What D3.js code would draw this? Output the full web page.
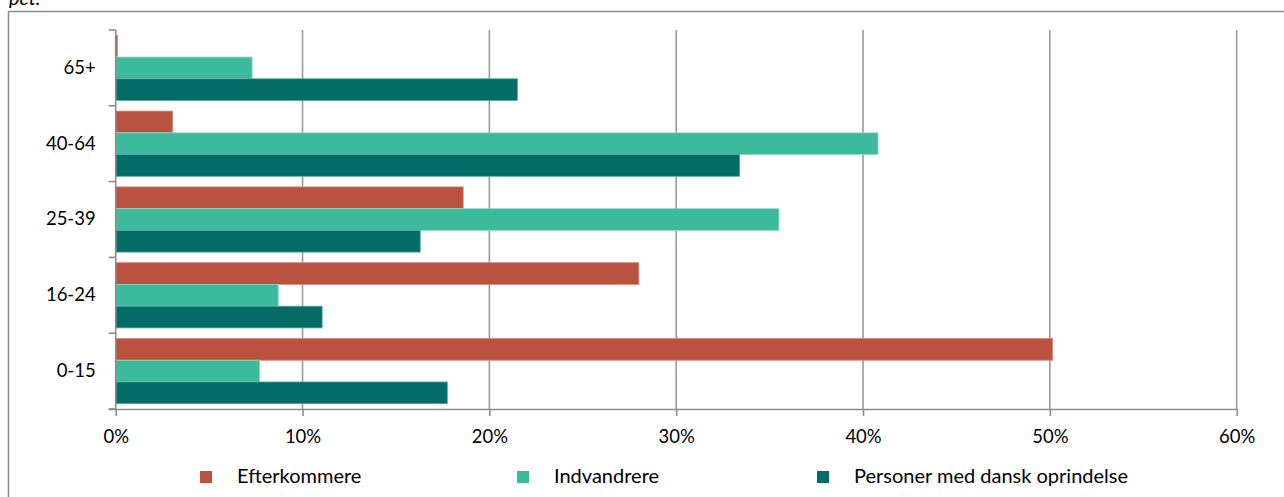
<!DOCTYPE html>
<html>
<head>
<meta charset="utf-8">
<script src="https://cdn.jsdelivr.net/npm/d3@7"></script>
<style>
  html, body { margin: 0; padding: 0; background: #fff; }
  svg { display: block; }
  text { font-family: Lato, "Open Sans", sans-serif; fill: #000; }
</style>
</head>
<body>
<svg id="chart" width="1284" height="497"></svg>
<script>
// ---- data ----
const categories = ["65+", "40-64", "25-39", "16-24", "0-15"];
const seriesNames = ["Efterkommere", "Indvandrere", "Personer med dansk oprindelse"];
const efterkommere = [0.1, 3.05, 18.6, 28.0, 50.15];
const indvandrere  = [7.3, 40.8, 35.5, 8.7, 7.7];
const danskOprindelse = [21.5, 33.4, 16.3, 11.05, 17.75];
const xTicks = [0, 10, 20, 30, 40, 50, 60];
const xTickLabels = ["0%", "10%", "20%", "30%", "40%", "50%", "60%"];
const unitLabel = "pct.";

// ---- styling / layout ----
const colors = ["#B9523F", "#3BBB9B", "#056B67"];
const strokes = ["#d98a7a", "#8fdcc8", "#5aa9a5"];
const svg = d3.select("#chart");
const plot = { left: 115.7, right: 1236.7, top: 30, bottom: 409 };

const x = d3.scaleLinear().domain([0, 60]).range([plot.left, plot.right]);
const y = d3.scaleBand().domain(categories).range([plot.top, plot.bottom]).paddingInner(0).paddingOuter(0);
const inner = d3.scaleBand().domain(seriesNames).range([0, y.bandwidth()]).paddingOuter(0.243).paddingInner(0);

const seriesValues = [efterkommere, indvandrere, danskOprindelse];

// outer frame
svg.append("path")
  .attr("d", "M8.5,497 L8.5,11.5 L1284,11.5")
  .attr("fill", "none").attr("stroke", "#8c8c8c").attr("stroke-width", 1.5);

// unit label (partly cut off at top, as in the reference)
svg.append("text")
  .attr("x", 9).attr("y", 5)
  .attr("font-style", "italic")
  .attr("font-size", 20)
  .text(unitLabel);

// gridlines
svg.append("g").selectAll("line")
  .data(xTicks.filter(d => d > 0))
  .join("line")
  .attr("x1", d => x(d)).attr("x2", d => x(d))
  .attr("y1", plot.top).attr("y2", plot.bottom)
  .attr("stroke", "#9b9b9b").attr("stroke-width", 1.6);

// bars
seriesNames.forEach((name, si) => {
  svg.append("g").selectAll("rect")
    .data(categories.map((c, i) => ({ c, v: seriesValues[si][i] })))
    .join("rect")
    .attr("x", x(0))
    .attr("y", d => y(d.c) + inner(name))
    .attr("width", d => Math.max(0.8, x(d.v) - x(0)))
    .attr("height", inner.bandwidth())
    .attr("fill", colors[si])
    .attr("stroke", strokes[si])
    .attr("stroke-width", 0.8);
});

// x axis
const xAxis = d3.axisBottom(x)
  .tickValues(xTicks)
  .tickFormat((d, i) => xTickLabels[i])
  .tickSizeInner(7).tickSizeOuter(0).tickPadding(14);
const gx = svg.append("g").attr("transform", `translate(0,${plot.bottom})`).call(xAxis);
gx.select(".domain").attr("stroke", "#8c8c8c").attr("stroke-width", 1.6)
  .attr("d", `M${plot.left - 7},0.5H${plot.right}`);
gx.selectAll(".tick line").attr("stroke", "#8c8c8c").attr("stroke-width", 1.6);
gx.selectAll(".tick text").attr("font-size", 18.5).attr("font-family", "Lato").attr("fill", "#000");

// y axis
const yAxis = d3.axisLeft(y).tickSize(0).tickPadding(20);
const gy = svg.append("g").attr("transform", `translate(${plot.left},0)`).call(yAxis);
gy.select(".domain").attr("stroke", "#8c8c8c").attr("stroke-width", 1.6)
  .attr("d", `M0,${plot.top}V${plot.bottom}`);
gy.selectAll(".tick text").attr("font-size", 18.5).attr("font-family", "Lato").attr("fill", "#000");
// category boundary ticks
const boundaries = categories.map(c => y(c)).concat([plot.bottom]);
gy.append("g").selectAll("line")
  .data(boundaries)
  .join("line")
  .attr("x1", -7).attr("x2", 0)
  .attr("y1", d => d).attr("y2", d => d)
  .attr("stroke", "#8c8c8c").attr("stroke-width", 1.6);

// legend
const legendSquareX = [200, 517, 817];
const legendTextX = [237, 554, 854];
const lg = svg.append("g");
seriesNames.forEach((name, i) => {
  lg.append("rect")
    .attr("x", legendSquareX[i]).attr("y", 471)
    .attr("width", 12).attr("height", 12)
    .attr("fill", colors[i]);
  lg.append("text")
    .attr("x", legendTextX[i]).attr("y", 483)
    .attr("font-size", 20)
    .text(name);
});
</script>
</body>
</html>
